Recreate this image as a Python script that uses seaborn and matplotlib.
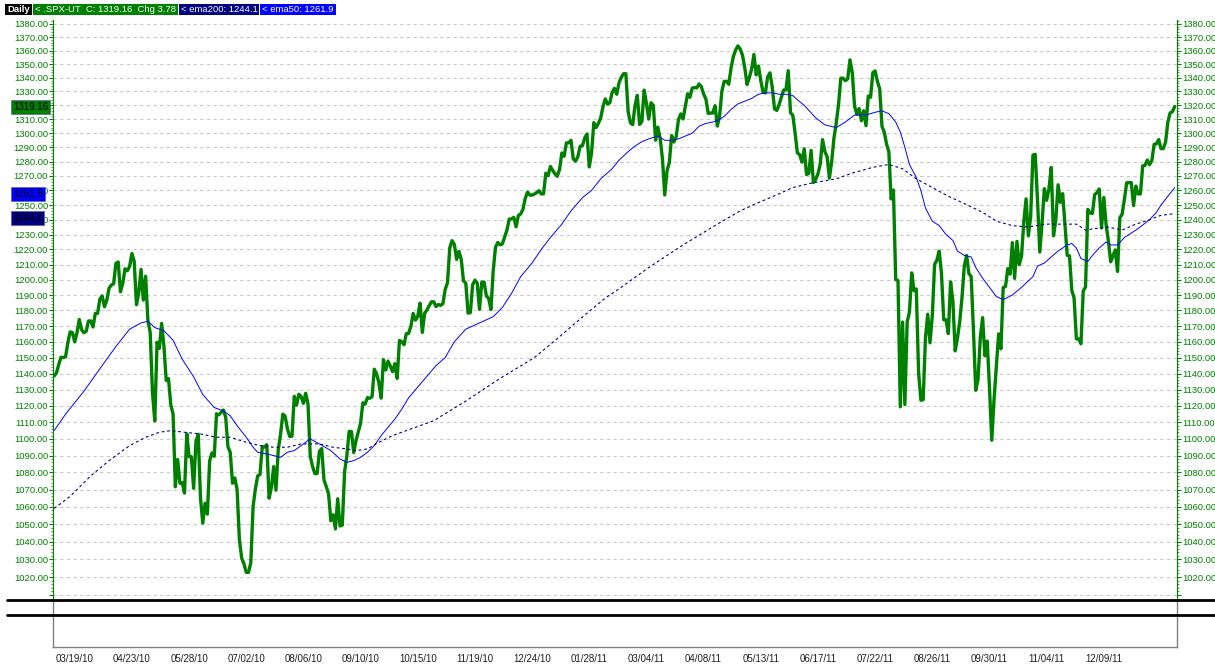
import numpy as np
import pandas as pd
import matplotlib
matplotlib.use("Agg")
import matplotlib.pyplot as plt
import seaborn as sns
from matplotlib.ticker import FixedLocator, FuncFormatter, NullFormatter
from matplotlib.lines import Line2D
from matplotlib.patches import Rectangle

# daily closes, one row per week (Mon-Fri), first bar = Mon 03/08/10
close = [
    1138.5, 1140.4, 1145.6, 1150.2, 1150.0,
    1150.5, 1159.5, 1166.2, 1165.8, 1159.9,
    1165.8, 1174.2, 1167.7, 1165.7, 1166.6,
    1173.2, 1173.3, 1169.4, 1178.1, 1178.1,
    1187.4, 1189.4, 1182.4, 1186.4, 1194.4,
    1196.5, 1197.3, 1210.7, 1211.7, 1192.1,
    1197.5, 1207.2, 1205.9, 1208.7, 1217.3,
    1212.1, 1183.7, 1191.4, 1206.8, 1186.7,
    1202.3, 1173.6, 1165.9, 1128.2, 1110.9,
    1159.7, 1155.8, 1171.7, 1157.4, 1135.7,
    1136.9, 1120.8, 1115.1, 1071.6, 1087.7,
    1073.7, 1074.0, 1067.9, 1103.1, 1089.4,
    1089.4, 1070.7, 1098.4, 1102.8, 1064.9,
    1050.5, 1062.0, 1055.7, 1086.8, 1091.6,
    1089.6, 1115.2, 1114.6, 1116.0, 1117.5,
    1113.2, 1095.3, 1092.0, 1073.7, 1076.8,
    1070.0, 1041.2, 1030.7, 1027.4, 1022.6,
    1022.6, 1028.1, 1060.3, 1070.3, 1078.0,
    1078.8, 1095.3, 1095.2, 1096.5, 1064.9,
    1071.3, 1083.5, 1069.6, 1093.7, 1102.7,
    1115.0, 1113.8, 1106.1, 1101.5, 1101.6,
    1125.9, 1120.5, 1127.2, 1125.8, 1121.6,
    1127.8, 1121.1, 1089.5, 1083.6, 1079.3,
    1079.4, 1092.5, 1094.2, 1075.6, 1071.7,
    1067.4, 1051.9, 1055.3, 1047.2, 1064.6,
    1048.9, 1049.3, 1080.3, 1090.1, 1104.5,
    1104.5, 1091.8, 1098.9, 1104.2, 1109.6,
    1121.9, 1121.1, 1125.1, 1124.7, 1125.6,
    1142.7, 1139.8, 1134.3, 1124.8, 1148.7,
    1142.2, 1147.7, 1144.7, 1141.2, 1146.2,
    1137.0, 1160.8, 1160.0, 1158.1, 1165.2,
    1165.3, 1169.8, 1178.1, 1173.8, 1176.2,
    1184.7, 1165.9, 1178.2, 1180.3, 1183.1,
    1185.6, 1185.6, 1182.5, 1183.8, 1183.3,
    1184.4, 1193.6, 1198.0, 1221.1, 1225.9,
    1223.3, 1213.4, 1218.7, 1213.5, 1199.2,
    1197.8, 1178.3, 1178.6, 1196.7, 1199.7,
    1197.8, 1180.7, 1198.4, 1198.4, 1189.4,
    1187.8, 1180.6, 1206.1, 1221.5, 1224.7,
    1223.1, 1223.8, 1228.3, 1233.0, 1240.4,
    1240.5, 1241.6, 1235.2, 1242.9, 1243.9,
    1247.1, 1254.6, 1258.8, 1256.8, 1256.8,
    1257.5, 1258.5, 1259.8, 1257.6, 1257.6,
    1271.9, 1270.2, 1276.6, 1273.9, 1271.5,
    1269.8, 1274.5, 1286.0, 1283.8, 1293.2,
    1293.2, 1295.0, 1281.9, 1280.3, 1283.4,
    1290.8, 1291.2, 1296.6, 1299.5, 1276.3,
    1286.1, 1307.6, 1304.0, 1307.1, 1310.9,
    1319.1, 1324.6, 1320.9, 1321.9, 1329.2,
    1332.3, 1328.0, 1336.3, 1340.4, 1343.0,
    1343.0, 1315.4, 1307.4, 1306.1, 1319.9,
    1327.2, 1306.3, 1308.4, 1331.0, 1321.2,
    1310.1, 1321.8, 1320.0, 1295.1, 1304.3,
    1296.4, 1281.9, 1256.9, 1273.7, 1279.2,
    1298.4, 1293.8, 1297.5, 1309.7, 1313.8,
    1310.2, 1319.4, 1328.3, 1325.8, 1332.4,
    1332.9, 1332.6, 1335.5, 1333.5, 1328.2,
    1324.5, 1314.2, 1314.4, 1314.5, 1319.7,
    1305.1, 1312.6, 1330.4, 1337.4, 1337.4,
    1335.3, 1347.2, 1355.7, 1360.5, 1363.6,
    1361.2, 1356.6, 1347.3, 1335.1, 1340.2,
    1346.3, 1357.2, 1342.1, 1348.7, 1337.8,
    1329.5, 1329.0, 1340.7, 1343.6, 1333.3,
    1317.4, 1316.3, 1320.5, 1325.7, 1331.1,
    1331.1, 1345.2, 1314.6, 1312.9, 1300.2,
    1286.1, 1284.9, 1279.6, 1289.0, 1271.0,
    1271.8, 1287.9, 1265.4, 1267.6, 1271.5,
    1278.4, 1295.5, 1287.1, 1283.5, 1268.5,
    1280.1, 1296.7, 1307.4, 1320.6, 1339.7,
    1339.7, 1337.9, 1339.2, 1353.2, 1343.8,
    1319.5, 1313.6, 1317.7, 1308.9, 1316.1,
    1305.4, 1326.7, 1325.8, 1343.8, 1345.0,
    1337.4, 1331.9, 1304.9, 1300.7, 1292.3,
    1286.9, 1254.1, 1260.3, 1200.1, 1199.4,
    1119.5, 1172.5, 1120.8, 1172.6, 1178.8,
    1204.5, 1192.8, 1193.9, 1140.7, 1123.5,
    1123.8, 1162.4, 1177.6, 1159.3, 1176.8,
    1210.1, 1212.9, 1218.9, 1204.4, 1174.0,
    1174.0, 1165.2, 1198.6, 1185.9, 1154.2,
    1162.3, 1172.9, 1188.7, 1209.1, 1216.0,
    1204.1, 1202.1, 1166.8, 1129.6, 1136.4,
    1163.0, 1175.4, 1151.1, 1160.4, 1131.4,
    1099.2, 1124.0, 1144.0, 1165.0, 1155.5,
    1194.9, 1195.5, 1207.3, 1203.7, 1224.6,
    1200.9, 1225.4, 1209.9, 1215.4, 1238.3,
    1254.2, 1229.1, 1242.0, 1284.6, 1285.1,
    1253.3, 1218.3, 1237.9, 1261.2, 1253.2,
    1261.1, 1275.9, 1229.1, 1239.7, 1263.9,
    1251.8, 1257.8, 1236.9, 1216.1, 1215.7,
    1193.0, 1188.0, 1161.8, 1161.8, 1158.7,
    1192.6, 1195.2, 1247.0, 1244.6, 1244.3,
    1257.1, 1258.5, 1261.0, 1234.4, 1255.2,
    1236.5, 1225.7, 1211.8, 1215.8, 1219.7,
    1205.4, 1241.3, 1243.7, 1254.0, 1265.3,
    1265.3, 1265.4, 1249.6, 1263.0, 1257.6,
    1257.6, 1277.1, 1277.3, 1281.1, 1277.8,
    1280.7, 1292.1, 1292.5, 1295.5, 1289.1,
    1289.1, 1293.7, 1308.0, 1314.5, 1315.4,
    1319.16,
]

# moving averages (bar number, value)
ema50_bar = [0, 5, 13, 20, 27, 33, 38, 41, 44, 48, 52, 56, 61, 65, 70, 74, 77, 80,
             84, 87, 89, 93, 96, 99, 102, 105, 108, 112, 116, 121, 125, 128, 131,
             134, 137, 140, 143, 146, 149, 152, 155, 158, 161, 164, 167, 171, 175,
             180, 183, 186, 189, 192, 196, 200, 204, 209, 213, 217, 222, 226, 231,
             235, 239, 244, 247, 251, 254, 257, 260, 264, 267, 270, 273, 276, 279,
             282, 285, 288, 290, 293, 296, 299, 302, 305, 308, 311, 314, 317, 320,
             323, 325, 328, 333, 337, 342, 346, 350, 355, 359, 362, 365, 368, 370,
             372, 374, 377, 379, 381, 384, 387, 390, 393, 395, 398, 401, 403, 406,
             409, 412, 415, 419, 423, 428, 430, 433, 436, 439, 443, 445, 447, 449,
             452, 454, 457, 460, 462, 465, 468, 471, 474, 479, 482, 484, 487, 490]
ema50_val = [1105, 1115, 1129, 1143, 1157, 1168, 1172, 1173, 1169, 1167, 1161, 1149,
             1138, 1127, 1119, 1117, 1114, 1108, 1101, 1095, 1092, 1091, 1090, 1089,
             1092, 1093, 1096, 1100, 1097, 1093, 1088, 1086, 1087, 1089, 1092, 1096,
             1102, 1107, 1112, 1118, 1125, 1130, 1135, 1140, 1145, 1150, 1160, 1168,
             1170, 1172, 1174, 1176, 1182, 1191, 1202, 1211, 1220, 1228, 1237, 1246,
             1255, 1260, 1268, 1275, 1281, 1287, 1291, 1294, 1296, 1298, 1295, 1295,
             1296, 1298, 1300, 1305, 1307, 1308, 1309, 1312, 1317, 1321, 1323, 1325,
             1328, 1329, 1329, 1328, 1328, 1327, 1324, 1320, 1311, 1306, 1304, 1308,
             1313, 1313, 1315, 1316, 1314, 1308, 1301, 1290, 1278, 1269, 1260, 1248,
             1239, 1236, 1230, 1226, 1219, 1216, 1215, 1208, 1201, 1195, 1189, 1187,
             1190, 1195, 1202, 1209, 1211, 1215, 1219, 1223, 1224, 1221, 1214, 1212,
             1216, 1221, 1225, 1223, 1223, 1228, 1231, 1234, 1240, 1245, 1250, 1256,
             1261.9]
ema200_bar = [0, 7, 16, 24, 33, 40, 46, 51, 57, 64, 71, 77, 84, 90, 96, 102, 108,
              112, 116, 122, 128, 132, 137, 142, 148, 154, 160, 166, 180, 195, 210,
              220, 232, 241, 247, 260, 275, 290, 300, 307, 316, 323, 331, 342, 349,
              358, 365, 371, 377, 384, 391, 398, 406, 412, 419, 426, 433, 441, 447,
              451, 455, 461, 467, 473, 479, 484, 490]
ema200_val = [1059, 1066, 1078, 1087, 1096, 1101, 1104, 1105, 1104, 1103, 1101, 1101,
              1098, 1096, 1095, 1095, 1097, 1097, 1097, 1095, 1094, 1093, 1094, 1098,
              1102, 1105, 1108, 1111, 1123, 1137, 1150, 1162, 1177, 1188, 1194, 1208,
              1223, 1237, 1246, 1251, 1257, 1262, 1265, 1268, 1272, 1276, 1278, 1275,
              1268, 1262, 1256, 1251, 1245, 1239, 1236, 1235, 1237, 1237, 1237, 1233,
              1234, 1235, 1233, 1237, 1240, 1243, 1244.1]

date_labels = ["03/19/10", "04/23/10", "05/28/10", "07/02/10", "08/06/10", "09/10/10",
               "10/15/10", "11/19/10", "12/24/10", "01/28/11", "03/04/11", "04/08/11",
               "05/13/11", "06/17/11", "07/22/11", "08/26/11", "09/30/11", "11/04/11",
               "12/09/11"]
price_ticks = [1010, 1020, 1030, 1040, 1050, 1060, 1070, 1080, 1090, 1100, 1110, 1120,
               1130, 1140, 1150, 1160, 1170, 1180, 1190, 1200, 1210, 1220, 1230, 1240,
               1250, 1260, 1270, 1280, 1290, 1300, 1310, 1320, 1330, 1340, 1350, 1360,
               1370, 1380]

GREEN = "#008000"
BLUE = "#0000ff"
NAVY = "#000080"

sns.set_style("white")
plt.rcParams["font.family"] = ["Liberation Sans", "DejaVu Sans"]

days = pd.bdate_range("2010-03-08", periods=len(close))
df = pd.DataFrame({"bar": np.arange(len(close)), "close": close})
e50 = pd.DataFrame({"bar": ema50_bar, "val": ema50_val})
e200 = pd.DataFrame({"bar": ema200_bar, "val": ema200_val})
label_pos = [days.get_loc(pd.to_datetime(d, format="%m/%d/%y")) for d in date_labels]

W, H = 1215, 664
fig = plt.figure(figsize=(W / 100, H / 100), dpi=100)


def fx(px):
    return px / W


def fy(py):
    return 1 - py / H


ax = fig.add_axes([fx(53), fy(600), fx(1177) - fx(53), fy(20) - fy(600)])
ax2 = fig.add_axes([fx(53), fy(647), fx(1177) - fx(53), fy(600) - fy(647)])

# price pane
ax.set_yscale("log")
sns.lineplot(data=df, x="bar", y="close", ax=ax, color=GREEN, linewidth=2.4)
sns.lineplot(data=e50, x="bar", y="val", ax=ax, color=BLUE, linewidth=0.7)
sns.lineplot(data=e200, x="bar", y="val", ax=ax, color=NAVY, linewidth=0.8,
             linestyle=(0, (2.5, 2.5)))
ax.set_xlim(-0.5, len(close))
ax.set_ylim(1007.3, 1383.0)
ax.set_xlabel("")
ax.set_ylabel("")
ax.set_xticks([])

ax.yaxis.set_major_locator(FixedLocator(price_ticks))
ax.yaxis.set_major_formatter(FuncFormatter(lambda v, p: "" if v < 1015 else f"{v:.2f}"))
ax.yaxis.set_minor_locator(FixedLocator(np.arange(1008, 1383, 2)))
ax.yaxis.set_minor_formatter(NullFormatter())
ax.tick_params(axis="y", which="major", left=True, right=True, labelleft=True,
               labelright=True, length=3, width=0.8, color=GREEN, labelcolor=GREEN,
               labelsize=6.8, pad=0.5)
ax.tick_params(axis="y", which="minor", left=True, right=True, length=1.5, width=0.5,
               color=GREEN)
ax.grid(axis="y", which="major", color="#c8c8c8", linestyle=(0, (3, 3)), linewidth=0.8)
for s in ["top", "bottom"]:
    ax.spines[s].set_visible(False)
for s in ["left", "right"]:
    ax.spines[s].set_color(GREEN)
    ax.spines[s].set_linewidth(0.8)

# last-value markers on the left axis
for txt, val, fc, dy in [("1319.16", 1319.16, GREEN, -0.5), ("1261.9", 1261.9, BLUE, -4.5),
                         ("1244.1", 1244.1, NAVY, -3.3)]:
    ax.annotate(txt, xy=((13 - 53) / 1124, val), xycoords=("axes fraction", "data"),
                xytext=(0, dy), textcoords="offset points", ha="left", va="center",
                fontsize=7, color="black", annotation_clip=False, zorder=10,
                bbox=dict(boxstyle="square,pad=0.2", fc=fc, ec="#6060a0", lw=0.5))

# empty lower pane carrying the date axis
ax2.set_xlim(-0.5, len(close))
ax2.set_ylim(0, 1)
ax2.set_yticks([])
ax2.set_xticks(label_pos)
ax2.set_xticklabels(date_labels)
ax2.xaxis.set_minor_locator(FixedLocator(np.arange(0, len(close), 2)))
ax2.tick_params(axis="x", which="major", length=4, width=0.7, color="#505050",
                labelsize=7, labelcolor="#202020", pad=1)
ax2.tick_params(axis="x", which="minor", length=2, width=0.5, color="#505050")
ax2.spines["top"].set_visible(False)
for s in ["left", "right", "bottom"]:
    ax2.spines[s].set_color("#808080")
    ax2.spines[s].set_linewidth(1.0)

# pane separators
for py in (600, 615):
    fig.add_artist(Line2D([fx(7), 1.0], [fy(py), fy(py)], transform=fig.transFigure,
                          color="black", linewidth=2.0))

# header legend, boxes sized to their text
header = [("Daily", "black", True),
          ("< .SPX-UT  C: 1319.16  Chg 3.78", GREEN, False),
          ("< ema200: 1244.1", NAVY, False),
          ("< ema50: 1261.9", BLUE, False)]
renderer = fig.canvas.get_renderer()
x0 = 5
for txt, fc, bold in header:
    t = fig.text(fx(x0 + 2), fy(9.7), txt, color="white", fontsize=6.8, va="center",
                 ha="left", fontweight="bold" if bold else "normal", zorder=5)
    w = t.get_window_extent(renderer=renderer).width
    fig.add_artist(Rectangle((fx(x0), fy(15)), fx(w + 4), fy(4) - fy(15),
                             transform=fig.transFigure, facecolor=fc,
                             edgecolor="none", zorder=1))
    x0 += w + 5

fig.savefig("out.png", dpi=100, facecolor="white")
